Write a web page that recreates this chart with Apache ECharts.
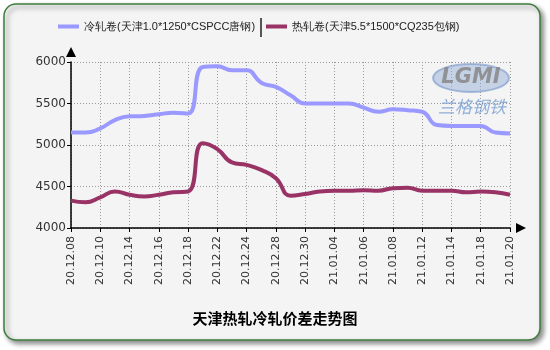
<!DOCTYPE html>
<html><head><meta charset="utf-8">
<script src="https://cdn.jsdelivr.net/npm/echarts@6/dist/echarts.min.js"></script>
<style>html,body{margin:0;padding:0;background:#fff;}#c{width:550px;height:350px;}</style>
</head><body><div id="c"></div>
<script>
var categories = ['20.12.08','20.12.09','20.12.10','20.12.11','20.12.14','20.12.15','20.12.16','20.12.17','20.12.18','20.12.21','20.12.22','20.12.23','20.12.24','20.12.25','20.12.28','20.12.29','20.12.30','20.12.31','21.01.04','21.01.05','21.01.06','21.01.07','21.01.08','21.01.11','21.01.12','21.01.13','21.01.14','21.01.15','21.01.18','21.01.19','21.01.20'];
var coldName = '冷轧卷(天津1.0*1250*CSPCC唐钢)';
var hotName = '热轧卷(天津5.5*1500*CQ235包钢)';
var coldValues = [5150,5150,5200,5300,5345,5350,5370,5390,5380,5940,5950,5900,5900,5750,5700,5600,5500,5500,5500,5500,5450,5400,5430,5420,5400,5240,5230,5230,5230,5150,5140];
var hotValues = [4330,4310,4370,4440,4400,4380,4400,4430,4440,5020,4950,4790,4760,4700,4600,4390,4410,4440,4450,4450,4455,4450,4480,4485,4450,4450,4450,4430,4440,4430,4400];
var titleText = '天津热轧冷轧价差走势图';

var legendCommon = {top: 21, padding: 0, itemWidth: 21, itemHeight: 4, icon: 'rect',
  textStyle: {fontSize: 11, color: '#222', fontFamily: 'Arial'}};

var chart = echarts.init(document.getElementById('c'), null, {renderer:'canvas'});
chart.setOption({
  backgroundColor: '#ffffff',
  animation: false,
  graphic: [
    {type:'rect', z:-10, shape:{x:4,y:4,width:536,height:336,r:12},
     style:{fill:'#f4f4f4', stroke:'#3d7d3d', lineWidth:1.5, shadowBlur:5, shadowOffsetX:3, shadowOffsetY:3, shadowColor:'rgba(0,0,0,0.45)'}},
    {type:'line', shape:{x1:261,y1:18,x2:261,y2:37}, style:{stroke:'#222', lineWidth:1.5}},
    {type:'ellipse', z:1, shape:{cx:471,cy:78,rx:38,ry:14}, style:{fill:'rgba(150,175,215,0.5)', stroke:'rgba(120,150,200,0.6)', lineWidth:2}},
    {type:'text', z:2, x:471, y:78, style:{text:'LGMI', font:'bold italic 21px "DejaVu Sans"', fill:'rgba(130,130,130,0.8)', align:'center', verticalAlign:'middle'}},
    {type:'text', z:2, x:472, y:107, style:{text:'兰格钢铁', font:'italic 17px "Noto Sans CJK SC"', fill:'rgba(110,150,205,0.75)', align:'center', verticalAlign:'middle'}}
  ],
  title: {
    text: titleText, left: 'center', top: 306,
    textStyle: {fontSize: 15, fontWeight: 'bold', color: '#000', fontFamily: '"Noto Sans CJK SC"'}
  },
  legend: [
    Object.assign({left: 58, data: [coldName]}, legendCommon),
    Object.assign({left: 266, data: [hotName]}, legendCommon)
  ],
  grid: {left: 71, right: 40, top: 62, bottom: 122, containLabel: false},
  xAxis: {
    type: 'category', data: categories, boundaryGap: false,
    axisLine: {lineStyle: {color: '#000', width: 1.5}, symbol: ['none','triangle'], symbolSize: [10,10], symbolOffset: [0, 11]},
    axisTick: {show: true, interval: 1, length: 4, lineStyle: {color: '#000'}},
    axisLabel: {interval: 1, rotate: 90, fontSize: 11, color: '#333', margin: 8, fontFamily: '"DejaVu Sans"'},
    splitLine: {show: true, interval: 1, lineStyle: {color: '#999', type: [1,2], width: 1}}
  },
  yAxis: {
    type: 'value', min: 4000, max: 6000, interval: 500,
    axisLine: {show: true, lineStyle: {color: '#000', width: 1.5}, symbol: ['none','triangle'], symbolSize: [10,10], symbolOffset: [0, 10]},
    axisTick: {show: true, length: 4, lineStyle: {color: '#000'}},
    axisLabel: {fontSize: 12, color: '#333', margin: 5, fontFamily: '"DejaVu Sans"', formatter: function(v){return String(v);}},
    splitLine: {show: true, lineStyle: {color: '#999', type: [1,2], width: 1}}
  },
  series: [
    {name: coldName, type: 'line', data: coldValues, smooth: 0.5, showSymbol: false, symbol: 'none',
     lineStyle: {color: '#9999ff', width: 4}, itemStyle: {color: '#9999ff'}},
    {name: hotName, type: 'line', data: hotValues, smooth: 0.5, showSymbol: false, symbol: 'none',
     lineStyle: {color: '#993366', width: 4}, itemStyle: {color: '#993366'}}
  ]
});
</script></body></html>
